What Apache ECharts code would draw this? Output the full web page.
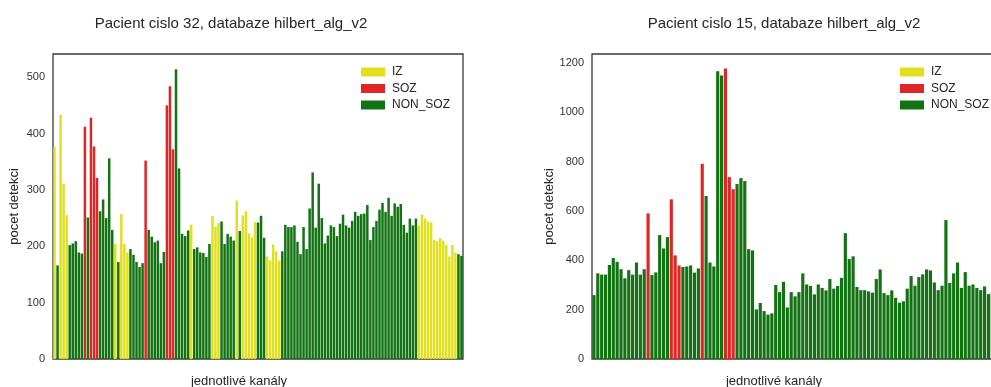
<!DOCTYPE html>
<html><head><meta charset="utf-8">
<script src="https://cdn.jsdelivr.net/npm/echarts@6/dist/echarts.min.js"></script>
<style>html,body{margin:0;padding:0;background:#fff}#c{width:991px;height:387px}</style>
</head><body><div id="c"></div>
<script>
// ---- data ----
const classNames = ['IZ', 'SOZ', 'NON_SOZ'];
const titles = ['Pacient cislo 32, databaze hilbert_alg_v2', 'Pacient cislo 15, databaze hilbert_alg_v2'];
const xName = 'jednotlivé kanály';
const yName = 'pocet detekci';

// Patient 32: detections per channel
const leftValues = [376,166,433,311,255,202,205,209,189,187,
  412,251,428,377,321,262,283,250,356,229,
  204,172,257,204,189,195,185,172,163,170,
  352,229,217,207,210,170,190,450,484,372,
  514,338,222,218,228,238,195,198,189,188,
  181,204,254,235,241,244,204,222,217,210,
  281,227,255,262,223,216,243,242,254,215,
  182,175,203,191,175,191,238,234,234,237,
  208,186,234,195,267,331,233,311,250,205,
  219,237,234,218,240,256,237,233,245,261,
  254,257,258,273,211,234,245,265,277,261,
  286,254,276,270,275,238,224,249,237,249,
  237,256,249,244,242,211,209,214,210,202,
  182,202,189,186,183];
// channel class: I = IZ, S = SOZ, N = NON_SOZ
const leftClasses = ['I','N','I','I','I','N','N','N','N','N',
  'S','N','S','S','S','N','N','N','N','N',
  'I','N','I','I','I','N','N','N','N','N',
  'S','N','N','N','N','N','N','S','S','S',
  'N','N','N','N','N','I','N','N','N','N',
  'N','N','I','I','I','N','N','N','N','N',
  'I','N','I','I','I','I','I','N','N','N',
  'I','I','I','I','I','N','N','N','N','N',
  'N','N','N','N','N','N','N','N','N','N',
  'N','N','N','N','N','N','N','N','N','N',
  'N','N','N','N','N','N','N','N','N','N',
  'N','N','N','N','N','N','N','N','N','N',
  'I','I','I','I','I','I','I','I','I','I',
  'I','I','I','N','N'];

// Patient 15: detections per channel
const rightValues = [259,347,342,342,381,409,394,364,327,360,
  342,391,342,364,590,340,351,502,448,494,
  647,420,379,373,375,379,350,367,791,661,
  391,375,1166,1149,1177,737,688,709,733,721,
  445,440,201,227,194,180,185,300,271,313,
  209,271,254,271,347,302,296,262,302,288,
  278,324,285,296,329,510,405,416,292,279,
  279,274,269,324,363,267,259,278,248,228,
  234,285,336,297,332,343,363,359,310,279,
  297,563,308,347,391,288,352,297,302,288,
  279,294,263,270,285,275];
const rightClasses = ['N','N','N','N','N','N','N','N','N','N',
  'N','N','N','N','S','N','N','N','N','N',
  'S','S','S','N','N','N','N','N','S','N',
  'N','N','N','N','S','S','S','N','N','N',
  'N','N','N','N','N','N','N','N','N','N',
  'N','N','N','N','N','N','N','N','N','N',
  'N','N','N','N','N','N','N','N','N','N',
  'N','N','N','N','N','N','N','N','N','N',
  'N','N','N','N','N','N','N','N','N','N',
  'N','N','N','N','N','N','N','N','N','N',
  'N','N','N','N','N','N'];

const leftTicks = {min: 0, max: 541, interval: 100};
const rightTicks = {min: 0, max: 1236, interval: 200};

// ---- styling ----
const codeToName = {I: 'IZ', S: 'SOZ', N: 'NON_SOZ'};
const colors = {IZ: '#e1e01f', SOZ: '#e02525', NON_SOZ: '#137313'};
const textColor = '#262626';
const font = 'Liberation Sans, Arial, sans-serif';

function seriesFor(values, classes, idx) {
  return classNames.map(name => ({
    name: name,
    type: 'bar',
    xAxisIndex: idx, yAxisIndex: idx,
    barGap: '-100%',
    barCategoryGap: '18%',
    itemStyle: {color: colors[name]},
    animation: false,
    data: values.map((v, i) => codeToName[classes[i]] === name ? v : '-')
  }));
}

const chart = echarts.init(document.getElementById('c'), null, {renderer: 'canvas'});
const grids = [
  {left: 53, width: 410, top: 54, height: 305},
  {left: 592, width: 410, top: 54, height: 305}
];
const titleCenters = [226, 779];
const xNameShift = [19, 23];
const ticks = [leftTicks, rightTicks];
const counts = [leftValues.length, rightValues.length];

chart.setOption({
  backgroundColor: '#fff',
  textStyle: {fontFamily: font},
  title: grids.map((g, i) => ({
    text: titles[i],
    left: titleCenters[i],
    top: 11,
    textAlign: 'center',
    textStyle: {fontSize: 15, fontWeight: 'normal', color: textColor, fontFamily: font}
  })),
  legend: grids.map((g, i) => ({
    orient: 'vertical',
    left: g.left + 303,
    top: 61,
    itemWidth: 24, itemHeight: 9,
    itemGap: 4.5,
    icon: 'rect',
    data: classNames,
    selectedMode: false,
    textStyle: {fontSize: 12, color: textColor, fontFamily: font, padding: [0, 0, 0, 2]}
  })),
  grid: grids.map(g => Object.assign({show: true, borderColor: '#3a3a3a', borderWidth: 1.3,
    backgroundColor: 'transparent', containLabel: false, outerBoundsMode: 'none'}, g)),
  xAxis: grids.map((g, i) => ({
    type: 'category',
    gridIndex: i,
    data: Array.from({length: counts[i]}, (_, k) => String(k + 1)),
    name: xName,
    nameLocation: 'middle',
    nameGap: 16,
    nameTextStyle: {fontSize: 13, color: textColor, fontFamily: font,
      padding: [0, 2 * xNameShift[i], 0, 0]},
    axisLine: {show: false},
    axisTick: {show: false},
    axisLabel: {show: false},
    splitLine: {show: false}
  })),
  yAxis: grids.map((g, i) => ({
    type: 'value',
    gridIndex: i,
    min: ticks[i].min, max: ticks[i].max, interval: ticks[i].interval,
    name: yName,
    nameLocation: 'middle',
    nameGap: 32,
    nameTextStyle: {fontSize: 13, color: textColor, fontFamily: font},
    axisLine: {show: false},
    axisTick: {show: false},
    splitLine: {show: false},
    axisLabel: {fontSize: 11, color: '#333', margin: 8, fontFamily: font,
      showMaxLabel: false, formatter: v => String(v)}
  })),
  series: seriesFor(leftValues, leftClasses, 0).concat(seriesFor(rightValues, rightClasses, 1))
});
</script>
</body></html>
